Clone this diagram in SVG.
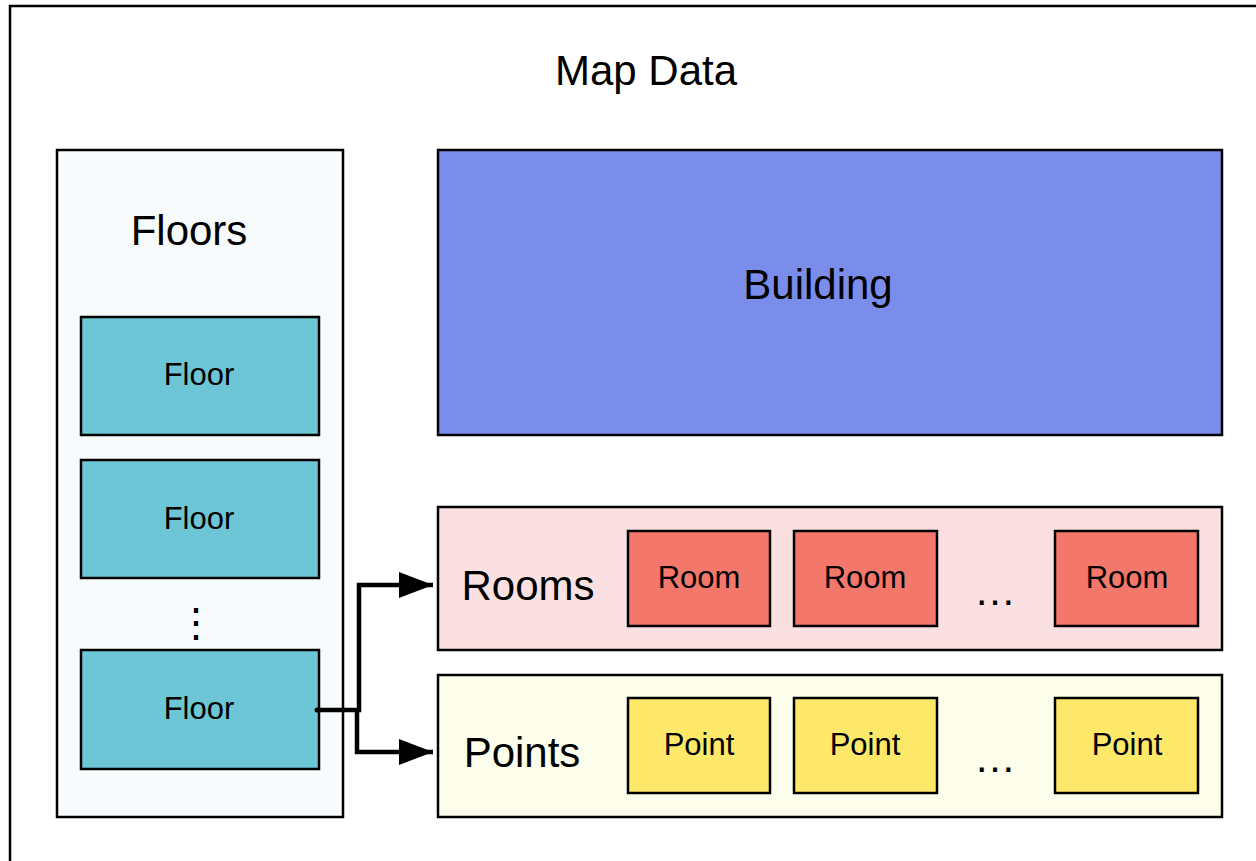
<svg xmlns="http://www.w3.org/2000/svg" width="1256" height="861" viewBox="0 0 1256 861">
<style>
text{font-family:"Liberation Sans",Arial,sans-serif;fill:#000;text-anchor:middle}
.big{font-size:42px}
.sm{font-size:31px}
rect{stroke:#000;stroke-width:2.5}
.conn{fill:none;stroke:#000;stroke-width:4.5;stroke-linejoin:miter}
</style>
<defs>
<marker id="arr" markerUnits="userSpaceOnUse" markerWidth="36" markerHeight="28" refX="34" refY="13" orient="auto">
<path d="M0,0 L34,13 L0,26 Z" fill="#000"/>
</marker>
</defs>
<rect id="frame" x="10" y="6" width="1270" height="880" fill="#fff"/>
<text class="big" x="646" y="85">Map Data</text>
<g id="floors">
<rect x="57" y="150" width="286" height="667" fill="#f7fbfc"/>
<text class="big" x="189" y="245">Floors</text>
</g>
<g id="floor1"><rect x="81" y="317" width="238" height="118" fill="#6cc6d6"/><text class="sm" x="199" y="385">Floor</text></g>
<g id="floor2"><rect x="81" y="460" width="238" height="118" fill="#6cc6d6"/><text class="sm" x="199" y="529">Floor</text></g>
<text x="196" y="636" style="font-size:40px">⋮</text>
<g id="floor3"><rect x="81" y="650" width="238" height="119" fill="#6cc6d6"/><text class="sm" x="199" y="719">Floor</text></g>
<g id="building"><rect x="438" y="150" width="784" height="285" fill="#7a8deb"/><text class="big" x="818" y="299">Building</text></g>
<g id="rooms">
<rect x="438" y="507" width="784" height="143" fill="#fae0e0"/>
<text class="big" x="528" y="600">Rooms</text>
</g>
<g id="room1"><rect x="628" y="531" width="142" height="95" fill="#f4776b"/><text class="sm" x="699" y="588">Room</text></g>
<g id="room2"><rect x="794" y="531" width="143" height="95" fill="#f4776b"/><text class="sm" x="865" y="588">Room</text></g>
<text class="big" x="995" y="605">…</text>
<g id="room3"><rect x="1055" y="531" width="143" height="95" fill="#f4776b"/><text class="sm" x="1127" y="588">Room</text></g>
<g id="points">
<rect x="438" y="675" width="784" height="142" fill="#fdfdeb"/>
<text class="big" x="522" y="767">Points</text>
</g>
<g id="point1"><rect x="628" y="698" width="142" height="95" fill="#fee86a"/><text class="sm" x="699" y="755">Point</text></g>
<g id="point2"><rect x="794" y="698" width="143" height="95" fill="#fee86a"/><text class="sm" x="865" y="755">Point</text></g>
<text class="big" x="995" y="772">…</text>
<g id="point3"><rect x="1055" y="698" width="143" height="95" fill="#fee86a"/><text class="sm" x="1127" y="755">Point</text></g>
<g id="connectors">
<circle cx="317" cy="710" r="2.5" fill="#000"/>
<path class="conn" d="M317,710 H359 V585 H433" marker-end="url(#arr)"/>
<path class="conn" d="M357,710 V752 H433" marker-end="url(#arr)"/>
</g>
</svg>
